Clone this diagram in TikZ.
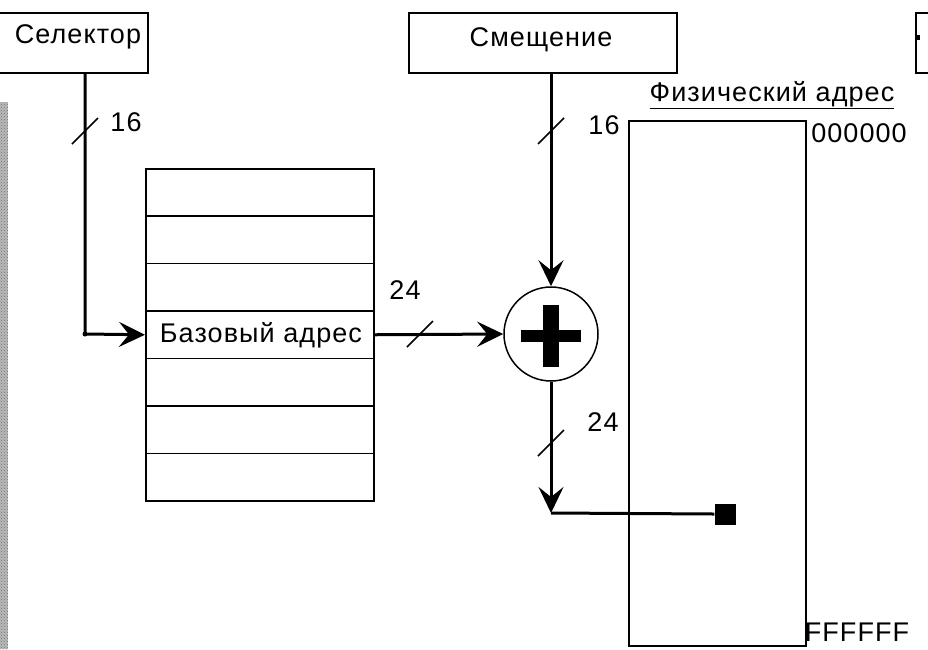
\documentclass[tikz,border=0pt]{standalone}
\usepackage{fontspec}
\setmainfont{Liberation Sans}[LetterSpace=4]
\usetikzlibrary{arrows.meta,patterns}
\begin{document}
\begin{tikzpicture}[x=1pt,y=-1pt,
  font=\fontsize{27}{32}\selectfont,
  box/.style={draw, line width=1.8pt, inner sep=0pt, rectangle, anchor=north west},
  rowbox/.style={draw, line width=1.5pt, inner sep=0pt, rectangle, minimum width=228pt, minimum height=47.43pt, anchor=north west},
  conn/.style={line width=3pt, -{Stealth[length=26pt,width=25pt,inset=10pt]}},
  wire/.style={line width=3pt},
  tickmark/.style={line width=1.5pt},
  lbl/.style={inner sep=0pt}]
\fill[white] (0,0) rectangle (928,649);
\useasboundingbox (0,0) rectangle (928,649);
% left strip
\fill[gray!55] (0,102) rectangle (8,649);
\fill[pattern=crosshatch dots, pattern color=gray!90!black] (0,102) rectangle (8,649);
% top boxes
\node[box, minimum width=157pt, minimum height=60pt] (sel) at (-10,12) {};
\node[lbl] (seltext) at (78,37) {Селектор};
\node[box, minimum width=268pt, minimum height=60pt] (off) at (408,12) {};
\node[lbl] (offtext) at (541,40) {Смещение};
\node[box, minimum width=40pt, minimum height=60pt] (rb) at (915,12) {};
\fill (915,35) rectangle (920,40);
% descriptor table
\foreach \i in {1,2,3,5,6,7}{
  \node[rowbox] (r\i) at (145,{168+(\i-1)*47.43}) {};
}
\node[rowbox] (r4) at (145,{168+3*47.43}) {};
\node[lbl] (basetext) at (261,335) {Базовый адрес};
% adder
\node[circle, draw, line width=1.5pt, minimum size=94pt, inner sep=0pt] (sum) at (551,334) {};
\fill ([shift={(-30,-4)}]sum.center) rectangle ([shift={(30,8)}]sum.center);
\fill ([shift={(-8,-29)}]sum.center) rectangle ([shift={(8,33)}]sum.center);
% physical memory
\node[box, line width=1.5pt, minimum width=177pt, minimum height=525pt] (mem) at (628,120) {};
\node[lbl] (phys) at (772,95) {\underline{Физический адрес}};
\node[lbl] (lo) at (859,133) {000000};
\node[lbl] (hi) at (857,632) {FFFFFF};
% connectors
\coordinate (bend) at (85,334);
\draw[conn] (sel.south -| bend) -- (bend) -- (r4.west);
\fill (bend) circle (2.5);
\draw[conn] (off.south -| sum.north) -- (sum.north);
\draw[conn] (r4.east) -- (sum.west);
\coordinate (corner) at (551,513);
\draw[conn] (sum.south) -- (corner);
\node[fill, minimum size=21pt, inner sep=0pt] (pt) at (725,514) {};
\draw[wire] (corner) -- (pt.west);
% width marks
\foreach \p in {(85,131),(551,131),(420,334),(551,443)}{
  \draw[tickmark] \p ++(-13,13) -- ++(26,-26);
}
\node[lbl] (w1) at (126,122) {16};
\node[lbl] (w2) at (604,125) {16};
\node[lbl] (w3) at (405,290) {24};
\node[lbl] (w4) at (603,422) {24};
\end{tikzpicture}
\end{document}
